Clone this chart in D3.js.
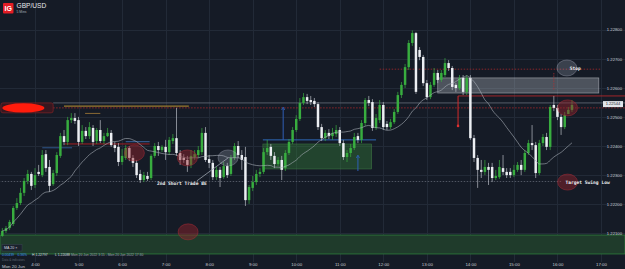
<!DOCTYPE html>
<html>
<head>
<meta charset="utf-8">
<script src="https://cdn.jsdelivr.net/npm/d3@7"></script>
<style>
html, body { margin: 0; padding: 0; background: #151b26; overflow: hidden; }
svg { display: block; font-family: "Liberation Sans", Arial, sans-serif; }
</style>
</head>
<body>
<svg></svg>
<script>
var width = 625;
var height = 269;

// GBP/USD 5 min candles, Mon 20 Jun 2022 from 3:15
var startTime = new Date(2022, 5, 20, 3, 15);
var barMinutes = 5;

var open = [1.22091,1.22108,1.22118,1.22132,1.22187,1.22204,1.22239,1.22280,1.22304,1.22266,
1.22311,1.22300,1.22372,1.22328,1.22269,1.22307,1.22366,1.22434,1.22414,1.22489,
1.22496,1.22489,1.22414,1.22452,1.22434,1.22462,1.22417,1.22455,1.22417,1.22434,
1.22445,1.22403,1.22397,1.22345,1.22359,1.22393,1.22359,1.22342,1.22304,1.22283,
1.22297,1.22290,1.22366,1.22400,1.22386,1.22397,1.22379,1.22417,1.22427,1.22376,
1.22359,1.22352,1.22335,1.22362,1.22369,1.22379,1.22445,1.22355,1.22342,1.22293,
1.22318,1.22293,1.22331,1.22304,1.22359,1.22400,1.22369,1.22362,1.22214,1.22256,
1.22276,1.22304,1.22311,1.22379,1.22397,1.22366,1.22338,1.22352,1.22324,1.22376,
1.22414,1.22455,1.22493,1.22548,1.22568,1.22558,1.22555,1.22544,1.22465,1.22427,
1.22445,1.22434,1.22441,1.22455,1.22410,1.22362,1.22376,1.22393,1.22434,1.22421,
1.22479,1.22558,1.22551,1.22462,1.22489,1.22541,1.22476,1.22465,1.22482,1.22517,
1.22575,1.22610,1.22671,1.22754,1.22788,1.22730,1.22706,1.22616,1.22568,1.22610,
1.22651,1.22627,1.22644,1.22685,1.22668,1.22610,1.22599,1.22634,1.22586,1.22634,
1.22427,1.22359,1.22318,1.22311,1.22328,1.22328,1.22290,1.22293,1.22324,1.22311,
1.22311,1.22300,1.22318,1.22335,1.22318,1.22376,1.22410,1.22403,1.22307,1.22410,
1.22431,1.22397,1.22541,1.22531,1.22500,1.22465,1.22510,1.22524];

var high = [1.22118,1.22125,1.22146,1.22194,1.22221,1.22256,1.22290,1.22318,1.22311,1.22324,
1.22335,1.22386,1.22386,1.22352,1.22318,1.22379,1.22445,1.22455,1.22500,1.22513,
1.22513,1.22500,1.22472,1.22465,1.22482,1.22472,1.22462,1.22489,1.22445,1.22462,
1.22455,1.22414,1.22410,1.22390,1.22403,1.22400,1.22369,1.22352,1.22318,1.22311,
1.22311,1.22372,1.22410,1.22414,1.22403,1.22421,1.22431,1.22441,1.22531,1.22386,
1.22372,1.22366,1.22386,1.22386,1.22400,1.22462,1.22465,1.22369,1.22352,1.22328,
1.22328,1.22345,1.22342,1.22369,1.22410,1.22417,1.22386,1.22397,1.22266,1.22297,
1.22318,1.22324,1.22393,1.22421,1.22407,1.22379,1.22362,1.22366,1.22386,1.22424,
1.22465,1.22506,1.22565,1.22582,1.22579,1.22572,1.22565,1.22551,1.22476,1.22455,
1.22458,1.22462,1.22472,1.22465,1.22421,1.22386,1.22407,1.22445,1.22445,1.22489,
1.22565,1.22572,1.22561,1.22510,1.22558,1.22551,1.22486,1.22493,1.22527,1.22586,
1.22620,1.22682,1.22764,1.22797,1.22792,1.22740,1.22713,1.22627,1.22620,1.22668,
1.22661,1.22661,1.22702,1.22695,1.22675,1.22616,1.22644,1.22644,1.22644,1.22644,
1.22438,1.22369,1.22352,1.22352,1.22342,1.22342,1.22318,1.22352,1.22369,1.22324,
1.22324,1.22335,1.22345,1.22352,1.22386,1.22421,1.22472,1.22414,1.22421,1.22441,
1.22445,1.22541,1.22572,1.22541,1.22510,1.22517,1.22534,1.22558];

var low = [1.22088,1.22101,1.22111,1.22125,1.22180,1.22197,1.22228,1.22269,1.22249,1.22256,
1.22297,1.22293,1.22311,1.22242,1.22263,1.22297,1.22359,1.22403,1.22403,1.22479,
1.22476,1.22400,1.22407,1.22424,1.22424,1.22400,1.22407,1.22410,1.22407,1.22431,
1.22397,1.22379,1.22331,1.22335,1.22352,1.22348,1.22328,1.22290,1.22273,1.22276,
1.22280,1.22283,1.22359,1.22366,1.22379,1.22352,1.22369,1.22407,1.22366,1.22335,
1.22342,1.22311,1.22324,1.22352,1.22359,1.22369,1.22345,1.22324,1.22283,1.22283,
1.22259,1.22287,1.22290,1.22297,1.22352,1.22359,1.22318,1.22194,1.22201,1.22245,
1.22266,1.22293,1.22304,1.22369,1.22352,1.22324,1.22331,1.22283,1.22314,1.22369,
1.22407,1.22448,1.22486,1.22541,1.22544,1.22541,1.22534,1.22455,1.22417,1.22417,
1.22424,1.22421,1.22431,1.22400,1.22352,1.22345,1.22362,1.22386,1.22410,1.22410,
1.22469,1.22537,1.22452,1.22455,1.22479,1.22455,1.22455,1.22458,1.22476,1.22510,
1.22565,1.22599,1.22661,1.22744,1.22579,1.22695,1.22606,1.22558,1.22561,1.22603,
1.22616,1.22620,1.22637,1.22658,1.22592,1.22586,1.22592,1.22575,1.22575,1.22421,
1.22345,1.22256,1.22290,1.22300,1.22266,1.22276,1.22283,1.22287,1.22300,1.22290,
1.22290,1.22293,1.22311,1.22300,1.22311,1.22369,1.22386,1.22290,1.22300,1.22400,
1.22386,1.22386,1.22520,1.22489,1.22438,1.22458,1.22510,1.22517];

var close = [1.22108,1.22118,1.22139,1.22187,1.22204,1.22239,1.22280,1.22304,1.22263,1.22300,
1.22304,1.22369,1.22324,1.22263,1.22307,1.22369,1.22434,1.22414,1.22489,1.22496,
1.22486,1.22414,1.22452,1.22434,1.22465,1.22414,1.22455,1.22417,1.22434,1.22445,
1.22403,1.22393,1.22345,1.22366,1.22393,1.22359,1.22342,1.22300,1.22283,1.22300,
1.22287,1.22366,1.22400,1.22386,1.22397,1.22379,1.22421,1.22427,1.22376,1.22352,
1.22352,1.22335,1.22366,1.22372,1.22386,1.22445,1.22352,1.22342,1.22293,1.22318,
1.22290,1.22331,1.22300,1.22359,1.22400,1.22369,1.22352,1.22214,1.22259,1.22276,
1.22304,1.22311,1.22379,1.22393,1.22366,1.22338,1.22352,1.22318,1.22376,1.22414,
1.22455,1.22493,1.22548,1.22568,1.22555,1.22551,1.22544,1.22465,1.22427,1.22445,
1.22434,1.22445,1.22455,1.22410,1.22362,1.22376,1.22393,1.22431,1.22421,1.22479,
1.22558,1.22548,1.22462,1.22496,1.22541,1.22465,1.22465,1.22482,1.22517,1.22575,
1.22610,1.22671,1.22754,1.22788,1.22586,1.22706,1.22616,1.22568,1.22610,1.22651,
1.22627,1.22651,1.22685,1.22668,1.22603,1.22599,1.22634,1.22586,1.22634,1.22427,
1.22359,1.22318,1.22311,1.22328,1.22318,1.22290,1.22297,1.22328,1.22311,1.22300,
1.22300,1.22318,1.22335,1.22318,1.22376,1.22410,1.22403,1.22307,1.22410,1.22431,
1.22397,1.22534,1.22531,1.22500,1.22465,1.22506,1.22524,1.22541];

var priceTicks = [1.221, 1.222, 1.223, 1.224, 1.225, 1.226, 1.227, 1.228];
var hourTicks = [4, 5, 6, 7, 8, 9, 10, 11, 12, 13, 14, 15, 16, 17];
var maPeriod = 20;
var lastPrice = 1.22544;
var infoTexts = ["0.00439", "0.36%", "H 1.22797", "L 1.22088", "Mon 20 Jun 2022 3:15 - Mon 20 Jun 2022 17:30"];

// drawn levels / zones (prices) and times
var resistanceLevel = 1.22548;
var shortLevel = 1.22531;
var stopLevel = 1.22664;
var stopZone = [1.22634, 1.22582];
var entryLevel = 1.22572;
var entryDrop = 1.22469;
var targetLevel = 1.22278;
var supportZone = [1.22094, 1.22029];
var tradeZone = [1.22407, 1.22321];
var tradeLine = 1.22421;

var tm = s => { var p = s.split(":"); return new Date(2022, 5, 20, +p[0], +p[1]); };

var x = d3.scaleTime()
    .domain([tm("4:00"), tm("17:00")])
    .range([35, 601]);

var y = d3.scaleLinear()
    .domain([1.221, 1.228])
    .range([233.3, 29.6]);

var candles = open.map((o, i) => ({
    time: d3.timeMinute.offset(startTime, i * barMinutes),
    open: o, high: high[i], low: low[i], close: close[i]
}));

var ma = candles.map((d, i) => ({
    time: d.time,
    value: d3.mean(close.slice(Math.max(0, i - maPeriod + 1), i + 1))
}));

var svg = d3.select("svg")
    .attr("width", width)
    .attr("height", height);

svg.append("rect")
    .attr("width", width)
    .attr("height", height)
    .attr("fill", "#151b26");

// grid
var grid = svg.append("g");
grid.selectAll(".hg")
    .data(priceTicks)
    .enter().append("line")
        .attr("x1", 0).attr("x2", width)
        .attr("y1", d => Math.round(y(d)) + 0.5)
        .attr("y2", d => Math.round(y(d)) + 0.5)
        .attr("stroke", "#222a37");
grid.selectAll(".vg")
    .data(hourTicks)
    .enter().append("line")
        .attr("x1", d => Math.round(x(tm(d + ":00"))) + 0.5)
        .attr("x2", d => Math.round(x(tm(d + ":00"))) + 0.5)
        .attr("y1", 0).attr("y2", 262)
        .attr("stroke", "#222a37");

// zones
svg.append("rect")
    .attr("x", 0)
    .attr("width", width)
    .attr("y", y(supportZone[0]))
    .attr("height", y(supportZone[1]) - y(supportZone[0]))
    .attr("fill", "#1f3b2b")
    .attr("stroke", "#2f7d3c")
    .attr("stroke-width", 0.8);

svg.append("rect")
    .attr("x", x(tm("9:14")))
    .attr("width", x(tm("11:44")) - x(tm("9:14")))
    .attr("y", y(tradeZone[0]))
    .attr("height", y(tradeZone[1]) - y(tradeZone[0]))
    .attr("fill", "rgba(52,120,58,0.45)")
    .attr("stroke", "rgba(80,150,80,0.6)")
    .attr("stroke-width", 0.6);

svg.append("rect")
    .attr("x", x(tm("13:15")))
    .attr("width", x(tm("16:57")) - x(tm("13:15")))
    .attr("y", y(stopZone[0]))
    .attr("height", y(stopZone[1]) - y(stopZone[0]))
    .attr("fill", "rgba(190,196,206,0.33)")
    .attr("stroke", "rgba(210,214,220,0.6)")
    .attr("stroke-width", 0.7);

// horizontal level lines
function hline(t1, t2, p, color, w, dash) {
    svg.append("line")
        .attr("x1", x(tm(t1))).attr("x2", x(tm(t2)))
        .attr("y1", y(p)).attr("y2", y(p))
        .attr("stroke", color)
        .attr("stroke-width", w)
        .attr("stroke-dasharray", dash || null);
}
hline("4:25", "17:35", resistanceLevel, "#5d6470", 0.9);
hline("4:25", "17:35", shortLevel, "#b3282c", 0.8, "1.5,1.5");
hline("3:10", "16:05", targetLevel, "#5f6672", 0.8, "1.5,1.5");
hline("11:55", "16:59", stopLevel, "#a8282c", 0.8, "1.5,1.5");
hline("13:43", "17:35", entryLevel, "#a3262a", 1);
hline("4:40", "7:32", 1.22537, "#9a7a2e", 1.3);
hline("5:09", "5:30", 1.22512, "#8a6a34", 1);
hline("4:41", "6:38", 1.22407, "#a31e22", 1);
hline("4:10", "4:51", 1.22394, "#2b4d7c", 1.2);
hline("6:05", "6:38", 1.22415, "#35598a", 1.2);
hline("9:14", "11:50", tradeLine, "#2f69b8", 1);

// candles
var bw = (x(d3.timeMinute.offset(startTime, barMinutes)) - x(startTime)) * 0.68;
var up = "#38ad3f";
var down = "#eceff3";

var candle = svg.append("g").selectAll("g")
    .data(candles)
    .enter().append("g");

candle.append("line")
    .attr("x1", d => x(d.time)).attr("x2", d => x(d.time))
    .attr("y1", d => y(d.high)).attr("y2", d => y(d.low))
    .attr("stroke", d => d.close >= d.open ? up : "#b8bcc4")
    .attr("stroke-width", 0.7);

candle.append("rect")
    .attr("x", d => x(d.time) - bw / 2)
    .attr("width", bw)
    .attr("y", d => y(Math.max(d.open, d.close)))
    .attr("height", d => Math.max(0.8, Math.abs(y(d.open) - y(d.close))))
    .attr("fill", d => d.close >= d.open ? up : down);

// moving average
svg.append("path")
    .datum(ma)
    .attr("fill", "none")
    .attr("stroke", "#a9b0b8")
    .attr("stroke-opacity", 0.75)
    .attr("stroke-width", 0.8)
    .attr("d", d3.line()
        .x(d => x(d.time))
        .y(d => y(d.value))
        .curve(d3.curveMonotoneX));

// arrows and markers
function vline(t, p1, p2, color, w, dash) {
    svg.append("line")
        .attr("x1", x(tm(t))).attr("x2", x(tm(t)))
        .attr("y1", y(p1)).attr("y2", y(p2))
        .attr("stroke", color)
        .attr("stroke-width", w)
        .attr("stroke-dasharray", dash || null);
}
vline("9:42", tradeLine, 1.22530, "#2f5fb5", 1);
vline("11:25", 1.22314, 1.22366, "#2f5fb5", 1);
[["9:42", 1.22534], ["11:25", 1.22369]].forEach(a => {
    var cx = x(tm(a[0])), cy = y(a[1]);
    svg.append("path")
        .attr("d", `M${cx - 1.6},${cy + 3}L${cx},${cy}L${cx + 1.6},${cy + 3}`)
        .attr("fill", "none")
        .attr("stroke", "#2f5fb5")
        .attr("stroke-width", 0.8);
});
vline("13:43", entryLevel, entryDrop, "#d42a2a", 1);
svg.append("circle")
    .attr("cx", x(tm("13:43"))).attr("cy", y(entryDrop))
    .attr("r", 1.3).attr("fill", "#e03030");
vline("15:55", 1.22651, 1.22592, "#b33030", 0.7, "1.5,1");

svg.append("line")
    .attr("x1", x(tm("7:43"))).attr("y1", y(1.22280))
    .attr("x2", x(tm("8:26"))).attr("y2", y(1.22359))
    .attr("stroke", "#9ca3ad")
    .attr("stroke-width", 0.8);

var redCircles = [["6:17", 1.22376], ["7:30", 1.22359], ["7:31", 1.22105], ["16:14", 1.22531], ["16:14", 1.22276]];
var greyCircles = [["8:26", 1.22359], ["16:13", 1.22668]];

svg.selectAll(".rc")
    .data(redCircles)
    .enter().append("ellipse")
        .attr("cx", d => x(tm(d[0])))
        .attr("cy", d => y(d[1]))
        .attr("rx", 10).attr("ry", 8)
        .attr("fill", "rgba(150,35,45,0.45)")
        .attr("stroke", "rgba(170,45,55,0.8)")
        .attr("stroke-width", 0.6);

svg.selectAll(".gc")
    .data(greyCircles)
    .enter().append("ellipse")
        .attr("cx", d => x(tm(d[0])))
        .attr("cy", d => y(d[1]))
        .attr("rx", 10).attr("ry", 8)
        .attr("fill", "rgba(170,178,195,0.25)")
        .attr("stroke", "rgba(190,196,210,0.5)")
        .attr("stroke-width", 0.6);

// redacted label on the left
svg.append("rect")
    .attr("x", x(tm("3:13"))).attr("y", y(1.22548))
    .attr("width", x(tm("4:25")) - x(tm("3:13")))
    .attr("height", y(1.22514) - y(1.22548))
    .attr("rx", 2)
    .attr("fill", "rgba(90,20,25,0.5)")
    .attr("stroke", "#7a2226")
    .attr("stroke-width", 0.8);
svg.append("ellipse")
    .attr("cx", x(tm("3:44"))).attr("cy", y(1.22531))
    .attr("rx", 21).attr("ry", 4.6)
    .attr("fill", "#ff1c0c");

// annotation texts
var note = svg.append("g")
    .attr("font-family", "DejaVu Sans Mono, monospace")
    .attr("font-weight", "bold")
    .attr("font-size", 4.6)
    .attr("fill", "#eef0f3");
note.append("text").attr("x", x(tm("6:48"))).attr("y", y(1.22273) + 1.6).text("2nd Short Trade BE");
note.append("text").attr("x", x(tm("16:17"))).attr("y", y(1.22668) + 1.6).text("Stop");
note.append("text").attr("x", x(tm("16:11"))).attr("y", y(1.22276) + 1.6).text("Target Swing Low");

// price axis
var yAxis = svg.append("g")
    .attr("transform", "translate(622,0)")
    .call(d3.axisRight(y).tickValues(priceTicks).tickFormat(d3.format(".5f")).tickSize(0).tickPadding(0));
yAxis.select(".domain").remove();
yAxis.selectAll("text")
    .attr("text-anchor", "end")
    .attr("font-size", 4.2)
    .attr("font-family", "Liberation Sans, Arial, sans-serif")
    .attr("fill", "#c9cdd4");

svg.append("rect")
    .attr("x", 603).attr("y", y(lastPrice) - 3)
    .attr("width", 20).attr("height", 6)
    .attr("fill", "#e2e5ea");
svg.append("text")
    .attr("x", 613).attr("y", y(lastPrice) + 1.4)
    .attr("text-anchor", "middle")
    .attr("font-size", 4)
    .attr("fill", "#1b212c")
    .text(d3.format(".5f")(lastPrice));

// time axis
var xAxis = svg.append("g")
    .attr("transform", "translate(0,263)")
    .call(d3.axisBottom(x).tickValues(hourTicks.map(h => tm(h + ":00"))).tickFormat(d3.timeFormat("%-H:%M")).tickSize(0).tickPadding(0));
xAxis.select(".domain").remove();
xAxis.selectAll("text")
    .attr("font-size", 4.4)
    .attr("font-family", "Liberation Sans, Arial, sans-serif")
    .attr("fill", "#c9cdd4");
svg.append("text")
    .attr("x", 2).attr("y", 267.5)
    .attr("font-size", 4.4)
    .attr("fill", "#c9cdd4")
    .text("Mon 20 Jun");

// indicator box and info line
svg.append("rect")
    .attr("x", 2).attr("y", 244.5).attr("width", 20).attr("height", 6.5)
    .attr("fill", "#1b222d").attr("stroke", "#3a4352").attr("stroke-width", 0.5);
svg.append("text")
    .attr("x", 4).attr("y", 249.2)
    .attr("font-size", 3.6).attr("fill", "#d8dbe0")
    .text("MA   20   \u00d7");

var infoX = [2, 17.5, 32, 55, 71];
var infoColors = ["#3d8bf2", "#3d8bf2", "#d8dbe0", "#d8dbe0", "#9aa1ab"];
svg.selectAll(".info")
    .data(infoTexts)
    .enter().append("text")
        .attr("x", (d, i) => infoX[i])
        .attr("y", 256.3)
        .attr("font-size", 3.4)
        .attr("fill", (d, i) => infoColors[i])
        .text(d => d);
svg.append("text")
    .attr("x", 2).attr("y", 261)
    .attr("font-size", 3)
    .attr("fill", "#5c6470")
    .text("Data & indicators");

// header
svg.append("rect")
    .attr("x", 3).attr("y", 3).attr("width", 10.5).attr("height", 10.5)
    .attr("rx", 1).attr("fill", "#e31d25");
svg.append("text")
    .attr("x", 8.25).attr("y", 10.6)
    .attr("text-anchor", "middle")
    .attr("font-size", 7).attr("font-weight", "bold")
    .attr("fill", "#fff")
    .text("IG");
svg.append("text")
    .attr("x", 16.5).attr("y", 8.2)
    .attr("font-size", 6.6)
    .attr("fill", "#e6e8ec")
    .text("GBP/USD");
svg.append("text")
    .attr("x", 16.5).attr("y", 13)
    .attr("font-size", 3.4)
    .attr("fill", "#aab0b8")
    .text("5 Mins");
</script>
</body>
</html>
